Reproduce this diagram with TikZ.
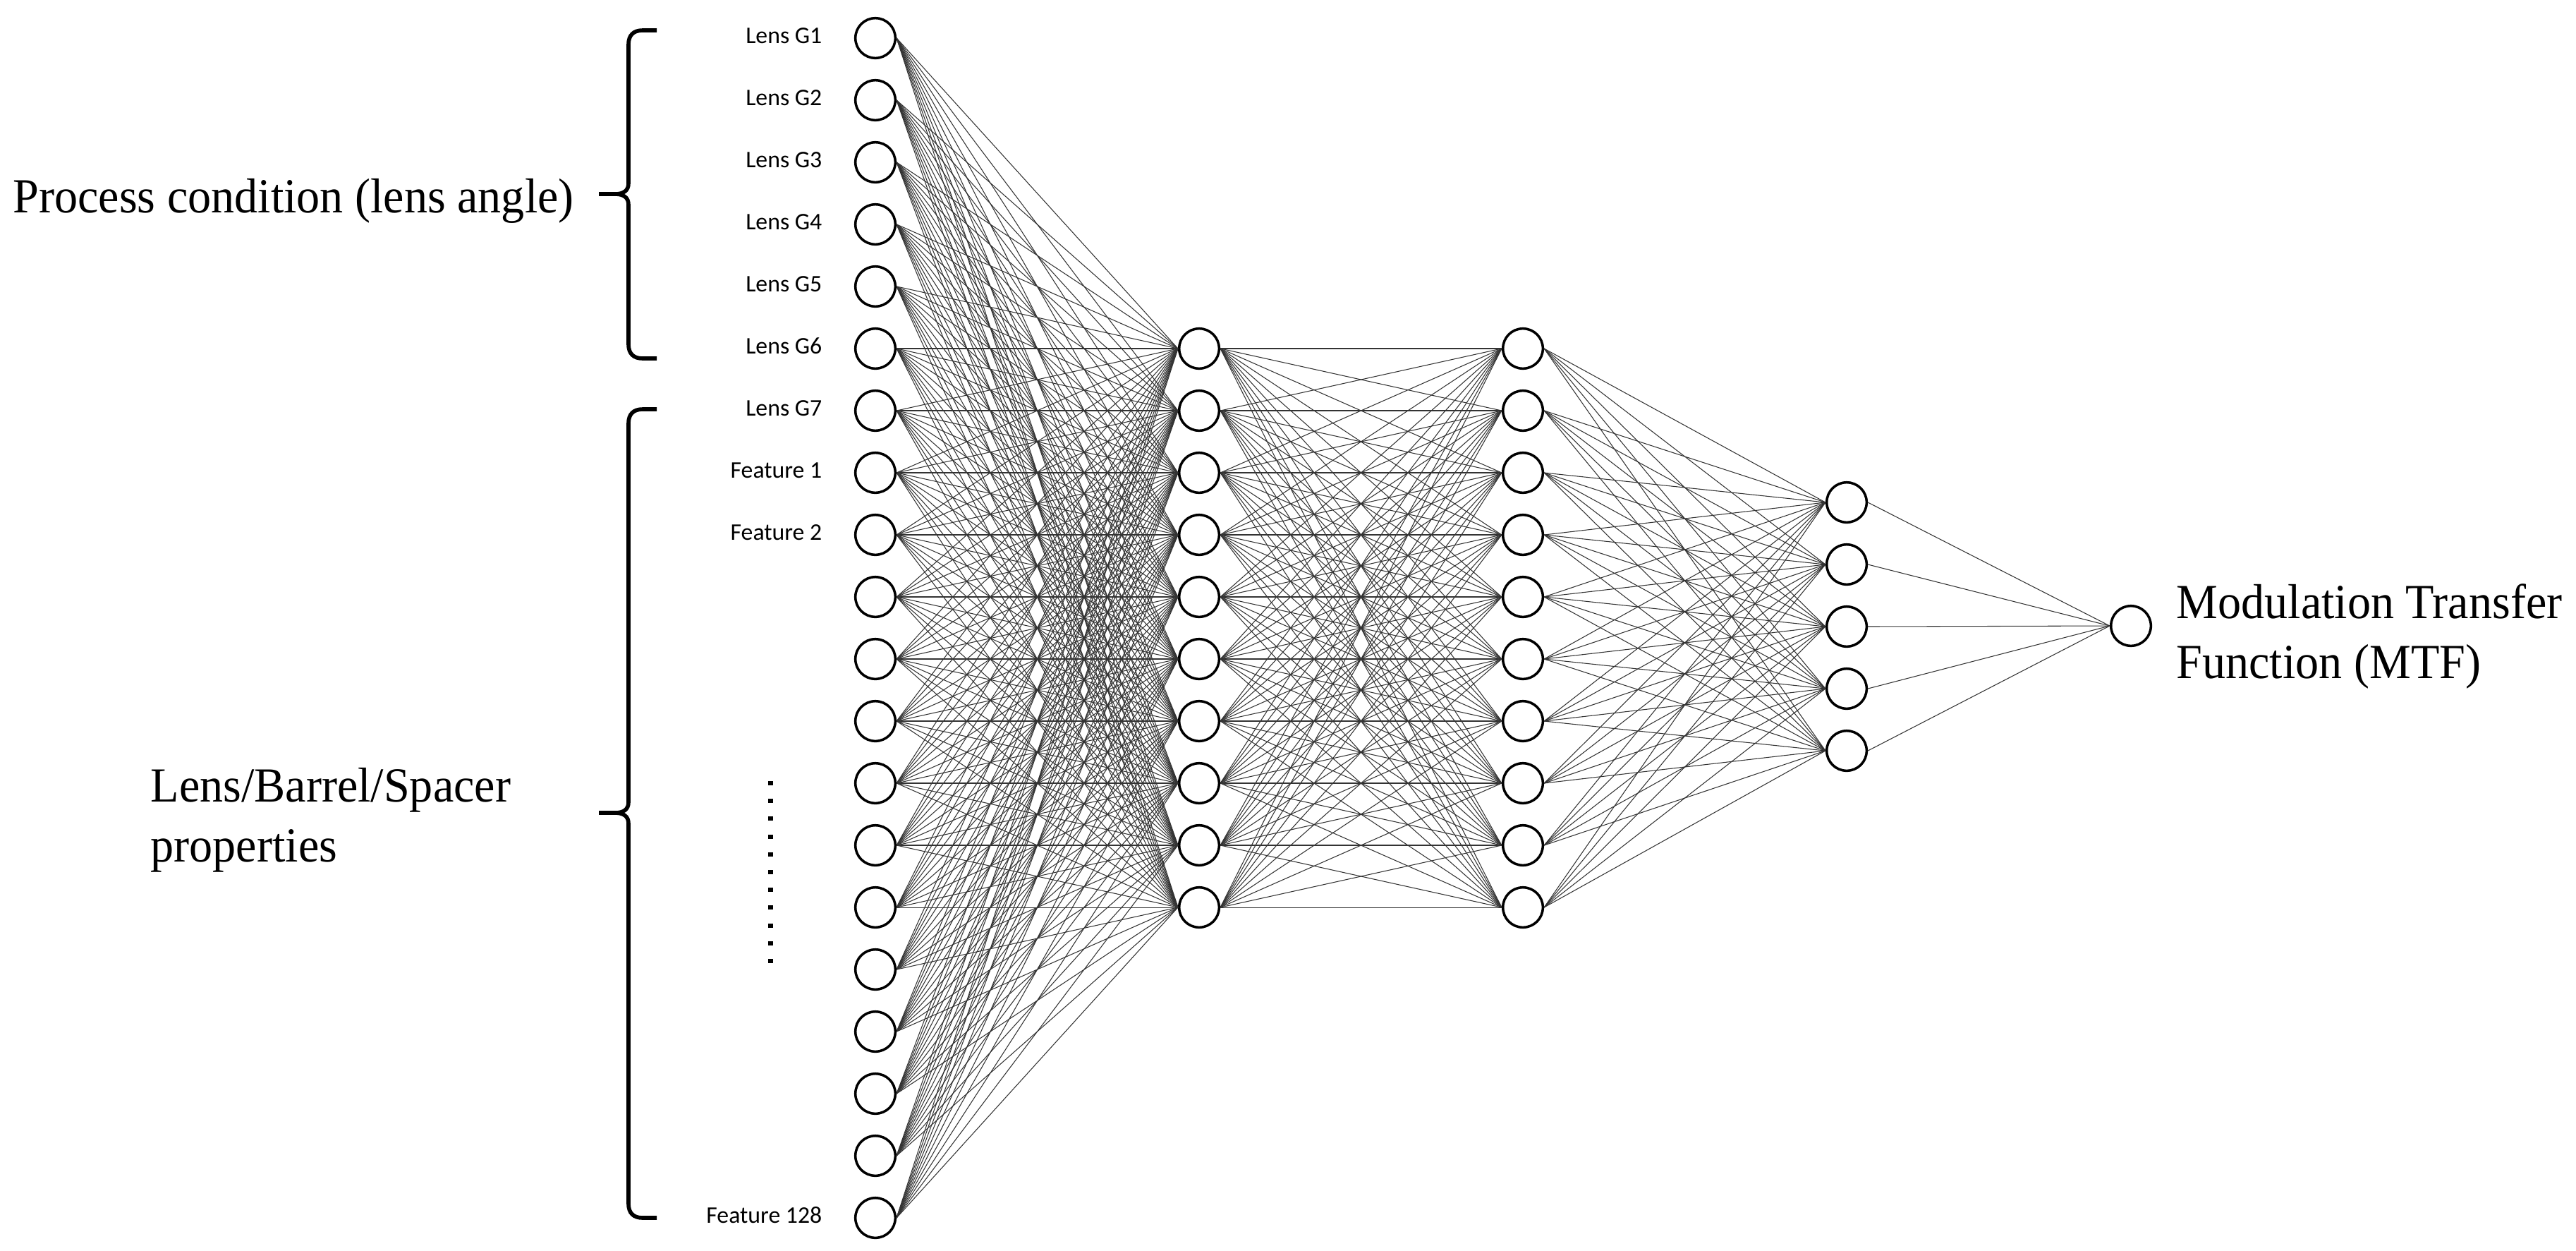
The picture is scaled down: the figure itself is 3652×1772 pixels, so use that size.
\documentclass[tikz,border=0pt]{standalone}
\usepackage{fontspec}
\setmainfont{Liberation Serif}
\newfontfamily\labfont{Carlito}
\newcommand{\tallt}[1]{\scalebox{1}[1.05]{#1}}
\begin{document}
\begin{tikzpicture}[x=0.01cm,y=-0.01cm,
  neuron/.style={circle,draw,line width=1pt,minimum size=0.566cm,inner sep=0pt,fill=white},
  conn/.style={line width=0.3pt,draw=black!80},
  lab/.style={font=\labfont\fontsize{9.6}{11}\selectfont,anchor=base east,inner sep=0pt},
  big/.style={font=\fontsize{18.8}{23}\selectfont,anchor=base west,inner sep=0pt},
  bracepath/.style={line width=1.6pt}]
\useasboundingbox (0,0) rectangle (3652,1772);

% layers
\foreach \i in {1,...,20} \node[neuron] (a\i) at (1241,{890+(\i-10.5)*88}) {};
\foreach \j in {1,...,10} \node[neuron] (b\j) at (1700,{890+(\j-5.5)*88}) {};
\foreach \j in {1,...,10} \node[neuron] (c\j) at (2159,{890+(\j-5.5)*88}) {};
\foreach \k in {1,...,5} \node[neuron] (d\k) at (2618,{888+(\k-3)*88}) {};
\node[neuron] (o) at (3021,887) {};

% connectors
\foreach \i in {1,...,20} \foreach \j in {1,...,10} \draw[conn] (a\i.east) -- (b\j.west);
\foreach \i in {1,...,10} \foreach \j in {1,...,10} \draw[conn] (b\i.east) -- (c\j.west);
\foreach \i in {1,...,10} \foreach \k in {1,...,5} \draw[conn] (c\i.east) -- (d\k.west);
\foreach \k in {1,...,5} \draw[conn] (d\k.east) -- (o.west);

% input labels
\foreach \i/\t in {1/Lens G1,2/Lens G2,3/Lens G3,4/Lens G4,5/Lens G5,6/Lens G6,7/Lens G7,8/Feature 1,9/Feature 2,20/Feature 128}
  \node[lab] (l\i) at ([xshift=-0.75cm,yshift=-0.07cm]a\i.center) {\t};

% dots
\foreach \m in {0,...,10} \fill (1088.5,{1107+\m*25.2}) rectangle ++(7,6);

% big texts
\node[big] (pc) at (18,301) {\tallt{Process condition (lens angle)}};
\node[big] (lb1) at (213,1136) {\tallt{Lens/Barrel/Spacer}};
\node[big] (lb2) at (213,1221) {\tallt{properties}};
\node[big] (mtf1) at (3085,876) {\tallt{Modulation Transfer}};
\node[big] (mtf2) at (3085,961) {\tallt{Function (MTF)}};

% braces
\draw[bracepath] (931,43) -- (911,43) .. controls (898,43) and (891,50) .. (891,63) -- (891,260)
  .. controls (891,270) and (884,275) .. (872,275) -- (849,275) -- (872,275) .. controls (884,275) and (891,280) .. (891,290)
  -- (891,488) .. controls (891,501) and (898,508) .. (911,508) -- (931,508);
\draw[bracepath] (931,580) -- (911,580) .. controls (898,580) and (891,587) .. (891,600) -- (891,1137)
  .. controls (891,1147) and (884,1152) .. (872,1152) -- (849,1152) -- (872,1152) .. controls (884,1152) and (891,1157) .. (891,1167)
  -- (891,1706) .. controls (891,1719) and (898,1726) .. (911,1726) -- (931,1726);
\end{tikzpicture}
\end{document}
